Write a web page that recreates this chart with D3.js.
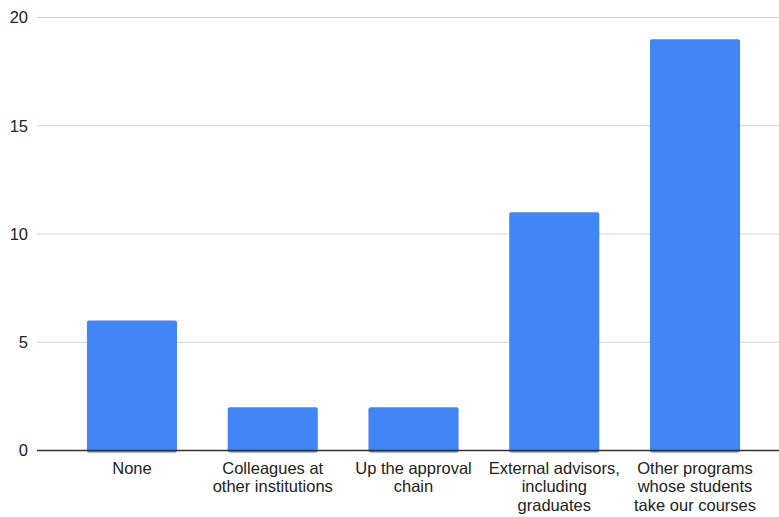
<!DOCTYPE html>
<html>
<head>
<meta charset="utf-8">
<script src="https://cdn.jsdelivr.net/npm/d3@7"></script>
<style>
  html, body { margin: 0; padding: 0; background: #fff; }
  svg { display: block; font-family: Arial, "Liberation Sans", sans-serif; }
</style>
</head>
<body>
<svg id="chart" width="779" height="517"></svg>
<script>
// Responses per category
const categories = [
  "None",
  "Colleagues at other institutions",
  "Up the approval chain",
  "External advisors, including graduates",
  "Other programs whose students take our courses"
];
// Wrapped label lines for each category
const labelLines = [
  ["None"],
  ["Colleagues at", "other institutions"],
  ["Up the approval", "chain"],
  ["External advisors,", "including", "graduates"],
  ["Other programs", "whose students", "take our courses"]
];
const values = [6, 2, 2, 11, 19];
const yTicks = [0, 5, 10, 15, 20];

const svg = d3.select("#chart");
const gridLeft = 37, gridRight = 779;

const x = d3.scaleBand()
  .domain(categories)
  .range([61.6, 765.4])
  .paddingInner(0.36)
  .paddingOuter(0.18);

const y = d3.scaleLinear()
  .domain([0, 20])
  .range([450.5, 17.5]);

// Horizontal gridlines
svg.append("g")
  .selectAll("line")
  .data(yTicks.filter(d => d !== 0))
  .join("line")
  .attr("x1", gridLeft)
  .attr("x2", gridRight)
  .attr("y1", d => y(d))
  .attr("y2", d => y(d))
  .attr("stroke", "#d6d6d6")
  .attr("stroke-width", 1.2);

// Y tick labels
svg.append("g")
  .selectAll("text")
  .data(yTicks)
  .join("text")
  .attr("x", 28)
  .attr("y", d => y(d))
  .attr("dy", "0.36em")
  .attr("text-anchor", "end")
  .attr("font-size", 16.5)
  .attr("fill", "#222")
  .text(d => d);

// Bars
svg.append("g")
  .selectAll("rect")
  .data(values)
  .join("rect")
  .attr("x", (d, i) => x(categories[i]))
  .attr("width", x.bandwidth())
  .attr("y", d => y(d))
  .attr("height", d => y(0) - y(d) + 2)
  .attr("rx", 2)
  .attr("fill", "#4285f4");

// Baseline
svg.append("line")
  .attr("x1", gridLeft)
  .attr("x2", gridRight)
  .attr("y1", y(0))
  .attr("y2", y(0))
  .attr("stroke", "#333")
  .attr("stroke-width", 1.4);

// Category labels
const labels = svg.append("g")
  .selectAll("text")
  .data(categories)
  .join("text")
  .attr("x", d => x(d) + x.bandwidth() / 2)
  .attr("y", 473.5)
  .attr("text-anchor", "middle")
  .attr("font-size", 16.5)
  .attr("fill", "#222");

labels.selectAll("tspan")
  .data((d, i) => labelLines[i])
  .join("tspan")
  .attr("x", function () { return d3.select(this.parentNode).attr("x"); })
  .attr("dy", (d, j) => j === 0 ? 0 : 18.5)
  .text(d => d);
</script>
</body>
</html>
